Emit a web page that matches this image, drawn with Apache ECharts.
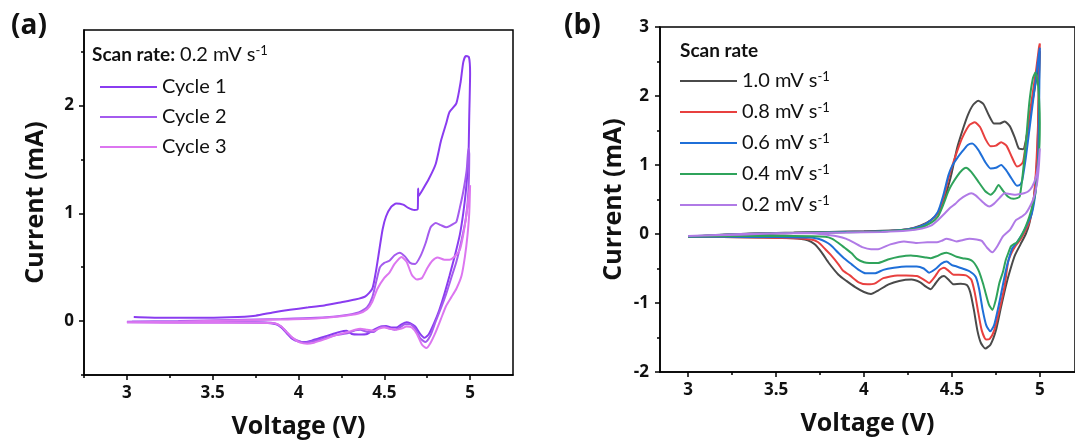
<!DOCTYPE html>
<html><head><meta charset="utf-8">
<script src="https://cdn.jsdelivr.net/npm/echarts@6/dist/echarts.min.js"></script>
<style>html,body{margin:0;padding:0;background:#fff;}#c{width:1075px;height:444px;}</style>
</head><body><div id="c"></div>
<script>
// ---------- Panel (a) data: [Voltage (V), Current (mA)] ----------
const cycleNames = ['Cycle 1', 'Cycle 2', 'Cycle 3'];
const cycle1 = [[3.04,0.037],[3.2,0.03],[3.4,0.03],[3.6,0.035],[3.75,0.05],[3.85,0.08],[3.95,0.105],[4.05,0.125],[4.15,0.145],[4.25,0.175],[4.33,0.2],[4.39,0.23],[4.43,0.3],[4.45,0.45],[4.47,0.65],[4.49,0.85],[4.51,0.97],[4.54,1.06],[4.57,1.09],[4.61,1.08],[4.64,1.05],[4.675,1.03],[4.695,1.04],[4.697,1.23],[4.70,1.16],[4.72,1.21],[4.76,1.32],[4.80,1.46],[4.83,1.67],[4.86,1.83],[4.88,1.94],[4.92,2.02],[4.945,2.22],[4.96,2.4],[4.975,2.46],[4.993,2.45],[5.0,2.3],[4.995,1.9],[4.99,1.5],[4.975,1.2],[4.96,1.0],[4.94,0.8],[4.91,0.6],[4.88,0.42],[4.85,0.25],[4.82,0.1],[4.79,-0.02],[4.76,-0.12],[4.735,-0.155],[4.71,-0.12],[4.68,-0.05],[4.65,-0.02],[4.63,-0.01],[4.6,-0.03],[4.57,-0.06],[4.54,-0.06],[4.51,-0.045],[4.48,-0.05],[4.44,-0.08],[4.4,-0.12],[4.35,-0.125],[4.31,-0.12],[4.28,-0.09],[4.24,-0.1],[4.2,-0.12],[4.14,-0.15],[4.08,-0.18],[4.04,-0.195],[4.0,-0.19],[3.96,-0.16],[3.93,-0.11],[3.9,-0.06],[3.87,-0.03],[3.8,-0.015],[3.6,-0.01],[3.3,-0.01],[3.03,-0.005]];
const cycle2 = [[3.0,-0.005],[3.3,0.0],[3.6,0.01],[3.9,0.02],[4.1,0.03],[4.25,0.05],[4.35,0.08],[4.40,0.13],[4.43,0.22],[4.455,0.38],[4.475,0.5],[4.5,0.54],[4.53,0.56],[4.56,0.61],[4.59,0.635],[4.62,0.6],[4.65,0.54],[4.68,0.53],[4.71,0.6],[4.74,0.72],[4.77,0.87],[4.8,0.91],[4.83,0.89],[4.86,0.87],[4.88,0.88],[4.9,0.9],[4.92,0.92],[4.94,1.05],[4.96,1.2],[4.98,1.4],[4.99,1.6],[4.995,1.55],[4.99,1.2],[4.975,0.95],[4.95,0.75],[4.92,0.55],[4.89,0.4],[4.86,0.25],[4.83,0.12],[4.8,0.0],[4.77,-0.13],[4.74,-0.195],[4.71,-0.16],[4.68,-0.07],[4.65,-0.03],[4.62,-0.03],[4.59,-0.06],[4.56,-0.08],[4.53,-0.07],[4.5,-0.05],[4.47,-0.06],[4.44,-0.1],[4.4,-0.1],[4.36,-0.08],[4.33,-0.085],[4.29,-0.11],[4.22,-0.13],[4.15,-0.16],[4.08,-0.19],[4.04,-0.2],[4.0,-0.185],[3.96,-0.15],[3.93,-0.1],[3.9,-0.05],[3.86,-0.02],[3.75,-0.01],[3.5,-0.01],[3.2,-0.01],[3.0,-0.01]];
const cycle3 = [[3.0,-0.01],[3.3,-0.005],[3.6,0.005],[3.9,0.015],[4.1,0.025],[4.25,0.045],[4.35,0.07],[4.40,0.11],[4.43,0.18],[4.46,0.3],[4.5,0.4],[4.53,0.45],[4.56,0.53],[4.6,0.595],[4.63,0.55],[4.66,0.43],[4.69,0.385],[4.72,0.4],[4.75,0.49],[4.78,0.56],[4.81,0.59],[4.85,0.57],[4.88,0.57],[4.91,0.6],[4.94,0.66],[4.96,0.8],[4.98,1.0],[4.995,1.2],[5.0,1.26],[4.995,1.0],[4.985,0.8],[4.97,0.6],[4.95,0.42],[4.92,0.3],[4.89,0.22],[4.86,0.14],[4.83,0.02],[4.8,-0.1],[4.77,-0.2],[4.745,-0.25],[4.72,-0.22],[4.69,-0.12],[4.66,-0.06],[4.63,-0.05],[4.6,-0.07],[4.57,-0.08],[4.53,-0.07],[4.5,-0.06],[4.47,-0.07],[4.44,-0.09],[4.4,-0.08],[4.36,-0.07],[4.33,-0.08],[4.29,-0.1],[4.22,-0.13],[4.15,-0.17],[4.09,-0.2],[4.05,-0.21],[4.01,-0.2],[3.97,-0.16],[3.93,-0.1],[3.9,-0.05],[3.86,-0.02],[3.75,-0.015],[3.5,-0.015],[3.2,-0.015],[3.0,-0.01]];

// ---------- Panel (b) data ----------
const rateNames = ['1.0', '0.8', '0.6', '0.4', '0.2'];
const rate10 = [[3.0,-0.04],[3.2,-0.01],[3.4,0.01],[3.6,0.02],[3.8,0.03],[4.0,0.04],[4.15,0.05],[4.25,0.07],[4.32,0.12],[4.38,0.2],[4.42,0.3],[4.45,0.45],[4.48,0.7],[4.5,0.9],[4.53,1.25],[4.56,1.5],[4.59,1.72],[4.62,1.87],[4.65,1.93],[4.68,1.88],[4.71,1.72],[4.74,1.6],[4.77,1.6],[4.8,1.63],[4.83,1.56],[4.86,1.38],[4.88,1.24],[4.905,1.23],[4.92,1.35],[4.94,1.65],[4.96,1.95],[4.98,2.25],[4.995,2.55],[5.0,2.65],[4.995,2.2],[4.99,1.5],[4.98,0.9],[4.96,0.4],[4.94,0.15],[4.92,0.0],[4.89,-0.15],[4.86,-0.3],[4.84,-0.45],[4.81,-0.72],[4.78,-1.05],[4.75,-1.4],[4.72,-1.6],[4.69,-1.66],[4.665,-1.58],[4.645,-1.4],[4.625,-1.1],[4.605,-0.85],[4.585,-0.74],[4.55,-0.72],[4.51,-0.73],[4.48,-0.66],[4.455,-0.61],[4.43,-0.64],[4.4,-0.74],[4.38,-0.8],[4.35,-0.76],[4.32,-0.7],[4.27,-0.66],[4.2,-0.68],[4.14,-0.73],[4.08,-0.82],[4.04,-0.87],[4.0,-0.84],[3.95,-0.77],[3.9,-0.68],[3.855,-0.59],[3.8,-0.42],[3.76,-0.27],[3.72,-0.15],[3.68,-0.09],[3.6,-0.06],[3.4,-0.05],[3.2,-0.045],[3.0,-0.04]];
const rate08 = [[3.0,-0.04],[3.3,0.0],[3.6,0.015],[3.9,0.03],[4.1,0.04],[4.25,0.07],[4.32,0.11],[4.38,0.2],[4.42,0.3],[4.45,0.5],[4.48,0.8],[4.5,0.97],[4.53,1.2],[4.56,1.4],[4.6,1.58],[4.63,1.62],[4.66,1.55],[4.69,1.38],[4.72,1.27],[4.75,1.28],[4.78,1.33],[4.81,1.28],[4.84,1.12],[4.87,0.98],[4.89,1.0],[4.905,1.05],[4.92,1.3],[4.94,1.7],[4.96,2.05],[4.98,2.4],[4.995,2.7],[5.0,2.76],[4.995,2.3],[4.99,1.6],[4.98,1.0],[4.965,0.5],[4.94,0.17],[4.92,0.06],[4.89,-0.08],[4.86,-0.18],[4.84,-0.27],[4.82,-0.4],[4.8,-0.75],[4.77,-1.1],[4.74,-1.4],[4.715,-1.52],[4.695,-1.53],[4.67,-1.4],[4.65,-1.14],[4.63,-0.85],[4.61,-0.66],[4.58,-0.6],[4.54,-0.59],[4.51,-0.59],[4.48,-0.53],[4.455,-0.49],[4.43,-0.52],[4.4,-0.63],[4.37,-0.71],[4.34,-0.66],[4.3,-0.61],[4.24,-0.6],[4.19,-0.6],[4.11,-0.64],[4.06,-0.72],[4.02,-0.73],[3.97,-0.7],[3.92,-0.6],[3.88,-0.53],[3.855,-0.44],[3.81,-0.3],[3.78,-0.22],[3.74,-0.12],[3.7,-0.08],[3.6,-0.06],[3.4,-0.05],[3.2,-0.045],[3.0,-0.04]];
const rate06 = [[3.0,-0.04],[3.3,0.0],[3.6,0.015],[3.9,0.03],[4.1,0.04],[4.25,0.07],[4.32,0.11],[4.38,0.2],[4.42,0.32],[4.45,0.55],[4.48,0.85],[4.5,0.98],[4.53,1.1],[4.56,1.2],[4.59,1.29],[4.615,1.31],[4.65,1.22],[4.69,1.04],[4.72,0.95],[4.75,0.96],[4.78,1.0],[4.81,0.92],[4.84,0.8],[4.87,0.7],[4.89,0.72],[4.9,0.78],[4.92,1.1],[4.94,1.5],[4.96,1.9],[4.98,2.3],[4.995,2.62],[5.0,2.7],[4.998,2.3],[4.995,1.7],[4.99,1.1],[4.975,0.6],[4.955,0.3],[4.93,0.15],[4.9,0.0],[4.87,-0.12],[4.845,-0.2],[4.825,-0.35],[4.805,-0.55],[4.785,-0.8],[4.765,-1.05],[4.74,-1.32],[4.718,-1.41],[4.695,-1.32],[4.675,-1.1],[4.655,-0.8],[4.635,-0.62],[4.6,-0.54],[4.56,-0.5],[4.527,-0.47],[4.5,-0.45],[4.47,-0.4],[4.44,-0.43],[4.41,-0.5],[4.37,-0.56],[4.34,-0.5],[4.3,-0.47],[4.24,-0.47],[4.17,-0.49],[4.11,-0.52],[4.06,-0.57],[4.01,-0.57],[3.97,-0.52],[3.93,-0.44],[3.89,-0.36],[3.855,-0.275],[3.81,-0.16],[3.78,-0.11],[3.74,-0.07],[3.7,-0.05],[3.5,-0.045],[3.2,-0.04],[3.0,-0.04]];
const rate04 = [[3.0,-0.035],[3.3,0.0],[3.6,0.015],[3.9,0.025],[4.1,0.035],[4.25,0.06],[4.32,0.09],[4.38,0.16],[4.42,0.25],[4.45,0.42],[4.48,0.62],[4.5,0.72],[4.53,0.84],[4.56,0.93],[4.58,0.96],[4.61,0.9],[4.65,0.76],[4.69,0.62],[4.72,0.57],[4.745,0.63],[4.765,0.71],[4.79,0.63],[4.82,0.54],[4.85,0.51],[4.87,0.52],[4.885,0.54],[4.9,0.8],[4.92,1.3],[4.94,1.9],[4.96,2.25],[4.975,2.34],[4.988,2.2],[4.997,1.9],[5.0,1.62],[4.998,1.3],[4.99,1.0],[4.975,0.6],[4.957,0.4],[4.94,0.25],[4.92,0.11],[4.9,0.0],[4.87,-0.12],[4.85,-0.15],[4.835,-0.18],[4.82,-0.28],[4.807,-0.37],[4.79,-0.55],[4.77,-0.71],[4.75,-0.95],[4.73,-1.1],[4.71,-1.02],[4.69,-0.84],[4.676,-0.71],[4.655,-0.55],[4.64,-0.47],[4.62,-0.4],[4.6,-0.37],[4.56,-0.35],[4.527,-0.33],[4.5,-0.3],[4.47,-0.27],[4.44,-0.29],[4.416,-0.32],[4.38,-0.35],[4.35,-0.34],[4.3,-0.32],[4.267,-0.31],[4.2,-0.33],[4.136,-0.37],[4.08,-0.42],[4.03,-0.42],[4.0,-0.41],[3.96,-0.36],[3.93,-0.28],[3.89,-0.2],[3.855,-0.13],[3.82,-0.07],[3.78,-0.04],[3.6,-0.03],[3.3,-0.03],[3.0,-0.035]];
const rate02 = [[3.0,-0.03],[3.3,0.0],[3.6,0.01],[3.9,0.02],[4.1,0.03],[4.25,0.05],[4.33,0.08],[4.38,0.12],[4.42,0.2],[4.46,0.3],[4.49,0.38],[4.52,0.44],[4.545,0.5],[4.58,0.56],[4.61,0.59],[4.635,0.56],[4.66,0.5],[4.69,0.43],[4.713,0.4],[4.74,0.44],[4.77,0.52],[4.8,0.59],[4.83,0.58],[4.864,0.57],[4.89,0.58],[4.91,0.59],[4.935,0.62],[4.957,0.69],[4.975,0.8],[4.99,0.98],[5.0,1.24],[4.995,1.0],[4.985,0.75],[4.965,0.52],[4.94,0.38],[4.92,0.3],[4.89,0.24],[4.864,0.2],[4.83,0.06],[4.79,-0.035],[4.76,-0.17],[4.73,-0.266],[4.7,-0.2],[4.67,-0.1],[4.64,-0.08],[4.6,-0.07],[4.56,-0.09],[4.527,-0.107],[4.49,-0.08],[4.47,-0.07],[4.44,-0.1],[4.415,-0.12],[4.36,-0.12],[4.3,-0.13],[4.227,-0.107],[4.15,-0.15],[4.08,-0.22],[4.04,-0.22],[3.99,-0.19],[3.946,-0.13],[3.9,-0.07],[3.852,-0.035],[3.75,0.0],[3.665,0.014],[3.5,0.01],[3.3,-0.01],[3.0,-0.03]];

// ---------- Tick values ----------
const xMajor = [3, 3.5, 4, 4.5, 5];
const xMinor = [2.75, 3.25, 3.75, 4.25, 4.75];
const yMajorA = [0, 1, 2];
const yMinorA = [-0.5, 0.5, 1.5, 2.5];
const yMajorB = [-2, -1, 0, 1, 2, 3];
const yMinorB = [-1.5, -0.5, 0.5, 1.5, 2.5];

const cycleColors = ['#8a3cf0', '#a45bee', '#dc76f0'];
const rateColors = ['#4a4a4a', '#e8403f', '#1f6fd8', '#2fa35b', '#b07ae6'];

const BOLD = 'Open Sans';
const TXT = 'Lato';

function majorAxis(gridIndex, min, max, major, name, nameGap, isY, labelMargin) {
  return {
    type: 'value', gridIndex, min, max,
    position: isY ? 'left' : 'bottom',
    axisLine: { show: true, onZero: false, lineStyle: { color: '#000', width: 1.5 } },
    axisTick: { show: true, inside: false, length: 5, customValues: major, lineStyle: { color: '#000', width: 1.5 } },
    axisLabel: { show: true, customValues: major, margin: labelMargin, color: '#111', fontFamily: BOLD, fontWeight: 'bold', fontSize: 17 },
    splitLine: { show: false },
    name, nameLocation: 'middle', nameGap, nameRotate: isY ? 90 : 0,
    nameTextStyle: { color: '#111', fontFamily: BOLD, fontWeight: 'bold', fontSize: 25 }
  };
}
function minorAxis(gridIndex, min, max, minor, isY) {
  return {
    type: 'value', gridIndex, min, max,
    position: isY ? 'left' : 'bottom',
    axisLine: { show: false, onZero: false },
    axisTick: { show: true, inside: false, length: 3, customValues: minor, lineStyle: { color: '#000', width: 1.5 } },
    axisLabel: { show: false },
    splitLine: { show: false }
  };
}

function supLabel(main) {
  return '{n|' + main + '}{s|-1}';
}
const richTxt = {
  n: { fontFamily: TXT, fontSize: 20, fontWeight: 'normal', color: '#111', lineHeight: 22 },
  s: { fontFamily: TXT, fontSize: 13, fontWeight: 'normal', color: '#111', verticalAlign: 'top' },
  b: { fontFamily: TXT, fontSize: 19, color: '#111', fontWeight: 'bold', lineHeight: 22 }
};

const cycleData = [cycle1, cycle2, cycle3];
const rateData = [rate10, rate08, rate06, rate04, rate02];

const series = [];
cycleNames.forEach((n, i) => series.push({
  name: n, type: 'line', xAxisIndex: 0, yAxisIndex: 0, data: cycleData[i],
  symbol: 'none', smooth: 0.2, color: cycleColors[i],
  lineStyle: { width: 2, color: cycleColors[i] }
}));
rateNames.forEach((n, i) => series.push({
  name: n + ' mV s', type: 'line', xAxisIndex: 2, yAxisIndex: 2, data: rateData[i],
  symbol: 'none', smooth: 0.2, color: rateColors[i],
  lineStyle: { width: 2, color: rateColors[i] }
}));

const chart = echarts.init(document.getElementById('c'), null, { renderer: 'canvas' });
chart.setOption({
  animation: false,
  backgroundColor: '#fff',
  title: [
    { text: '(a)', left: 11, top: 12, padding: 0, textStyle: { fontFamily: BOLD, fontWeight: 'bold', fontSize: 28, color: '#111' } },
    { text: '(b)', left: 564, top: 12, padding: 0, textStyle: { fontFamily: BOLD, fontWeight: 'bold', fontSize: 28, color: '#111' } },
    { text: '{b|Scan rate:} {n|0.2 mV s}{s|-1}', left: 92, top: 44, padding: 0, textStyle: { rich: richTxt } },
    { text: '{b|Scan rate}', left: 680, top: 40, padding: 0, textStyle: { rich: richTxt } }
  ],
  grid: [
    { left: 84, top: 30, width: 429, height: 346, show: true, borderColor: '#000', borderWidth: 1.5, backgroundColor: 'transparent' },
    { left: 660, top: 27, width: 420, height: 345, show: true, borderColor: '#000', borderWidth: 1.5, backgroundColor: 'transparent' }
  ],
  xAxis: [
    majorAxis(0, 2.75, 5.25, xMajor, 'Voltage (V)', 39, false, 10),
    minorAxis(0, 2.75, 5.25, xMinor, false),
    majorAxis(1, 2.84, 5.2, xMajor, 'Voltage (V)', 39, false, 10),
    minorAxis(1, 2.84, 5.2, xMinor.slice(1), false)
  ],
  yAxis: [
    majorAxis(0, -0.5, 2.7, yMajorA, 'Current (mA)', 36, true, 10),
    minorAxis(0, -0.5, 2.7, yMinorA, true),
    majorAxis(1, -2, 3, yMajorB, 'Current (mA)', 34, true, 11),
    minorAxis(1, -2, 3, yMinorB, true)
  ],
  legend: [
    { data: cycleNames, orient: 'vertical', left: 100, top: 76, padding: 0, itemWidth: 57, itemHeight: 2, icon: 'rect', itemGap: 8,
      textStyle: { fontFamily: TXT, fontSize: 20, color: '#111', lineHeight: 22 }, selectedMode: false },
    { data: rateNames.map(n => n + ' mV s'), orient: 'vertical', left: 680, top: 70, padding: 0, itemWidth: 57, itemHeight: 2, icon: 'rect', itemGap: 10,
      formatter: name => supLabel(name), textStyle: { rich: richTxt }, selectedMode: false }
  ],
  series
});
</script></body></html>
